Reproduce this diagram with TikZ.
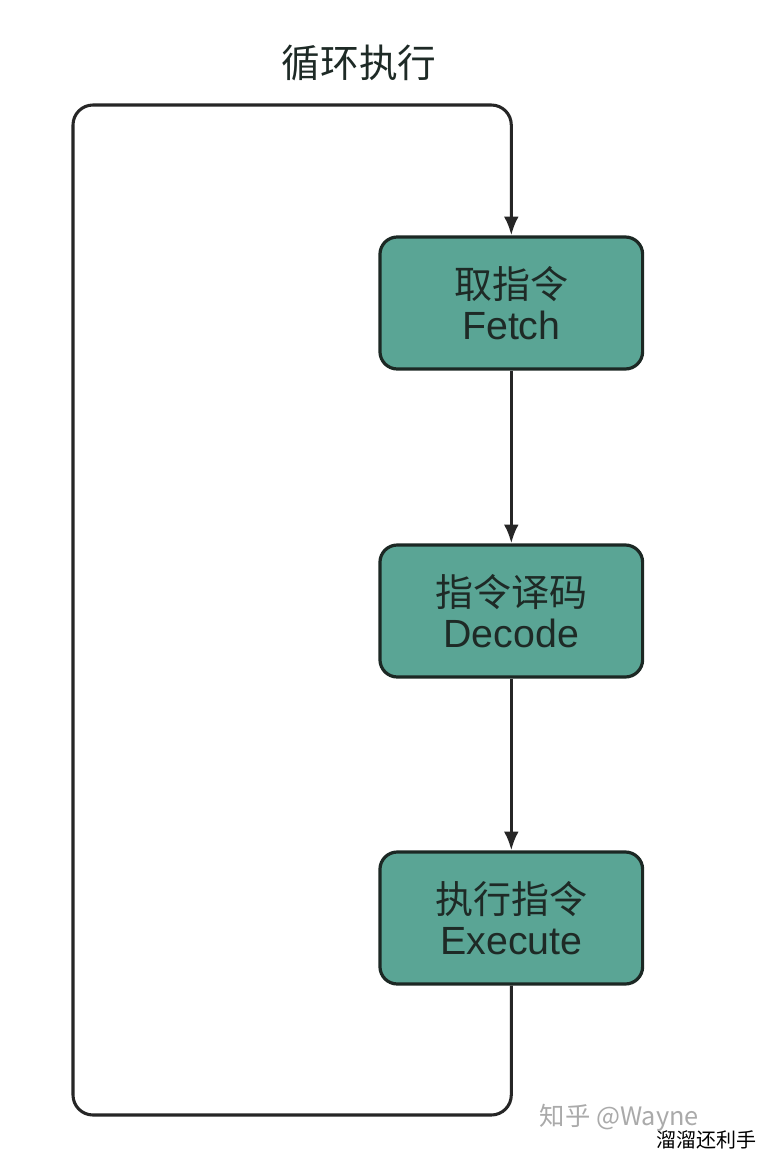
\documentclass[tikz,border=0pt]{standalone}
\usepackage{fontspec}
\setmainfont{Liberation Sans}
\newfontfamily\cjk{Noto Sans CJK SC}
\usetikzlibrary{arrows.meta}
\definecolor{boxfill}{RGB}{90,165,149}
\definecolor{boxline}{RGB}{28,40,36}
\definecolor{txt}{RGB}{30,42,38}
\definecolor{wm}{RGB}{170,170,170}
\tikzset{
  stepbox/.style={draw=boxline, line width=2.4pt, fill=boxfill, rounded corners=13pt,
    minimum width=197pt, minimum height=99pt, align=center, text=txt,
    font=\fontsize{29.5}{34}\selectfont, inner sep=0pt},
  flow/.style={line width=2.3pt, draw=black!85, -{Latex[length=14pt,width=11pt]}},
  loopline/.style={flow, rounded corners=15pt},
}
\begin{document}
\begin{tikzpicture}[x=0.75pt,y=-0.75pt]
\useasboundingbox (0,0) rectangle (774,1170);
\fill[white] (0,0) rectangle (774,1170);
\node[text=txt, font=\cjk\fontsize{29}{32}\selectfont] (title) at (359,63) {循环执行};
\node[stepbox] (fetch) at (511.3,303) {{\cjk\fontsize{28.5}{34}\selectfont 取指令}\\[-3pt]Fetch};
\node[stepbox] (decode) at (511.3,611) {{\cjk\fontsize{28.5}{34}\selectfont 指令译码}\\[-3pt]Decode};
\node[stepbox] (exec) at (511.3,918) {{\cjk\fontsize{28.5}{34}\selectfont 执行指令}\\[-3pt]Execute};
\coordinate (br) at (511.3,1115);
\coordinate (bl) at (73,1115);
\coordinate (tl) at (73,105);
\coordinate (tr) at (511.3,105);
\draw[flow] (fetch.south) -- (decode.north);
\draw[flow] (decode.south) -- (exec.north);
\draw[loopline] (exec.south) -- (br) -- (bl) -- (tl) -- (tr) -- (fetch.north);
\node[text=wm, font=\cjk\fontsize{19}{22}\selectfont, anchor=west] (wm1) at (535,1118) {知乎 @Wayne};
\node[text=black, font=\cjk\fontsize{15}{18}\selectfont, anchor=west] (wm2) at (652,1140) {溜溜还利手};
\end{tikzpicture}
\end{document}
